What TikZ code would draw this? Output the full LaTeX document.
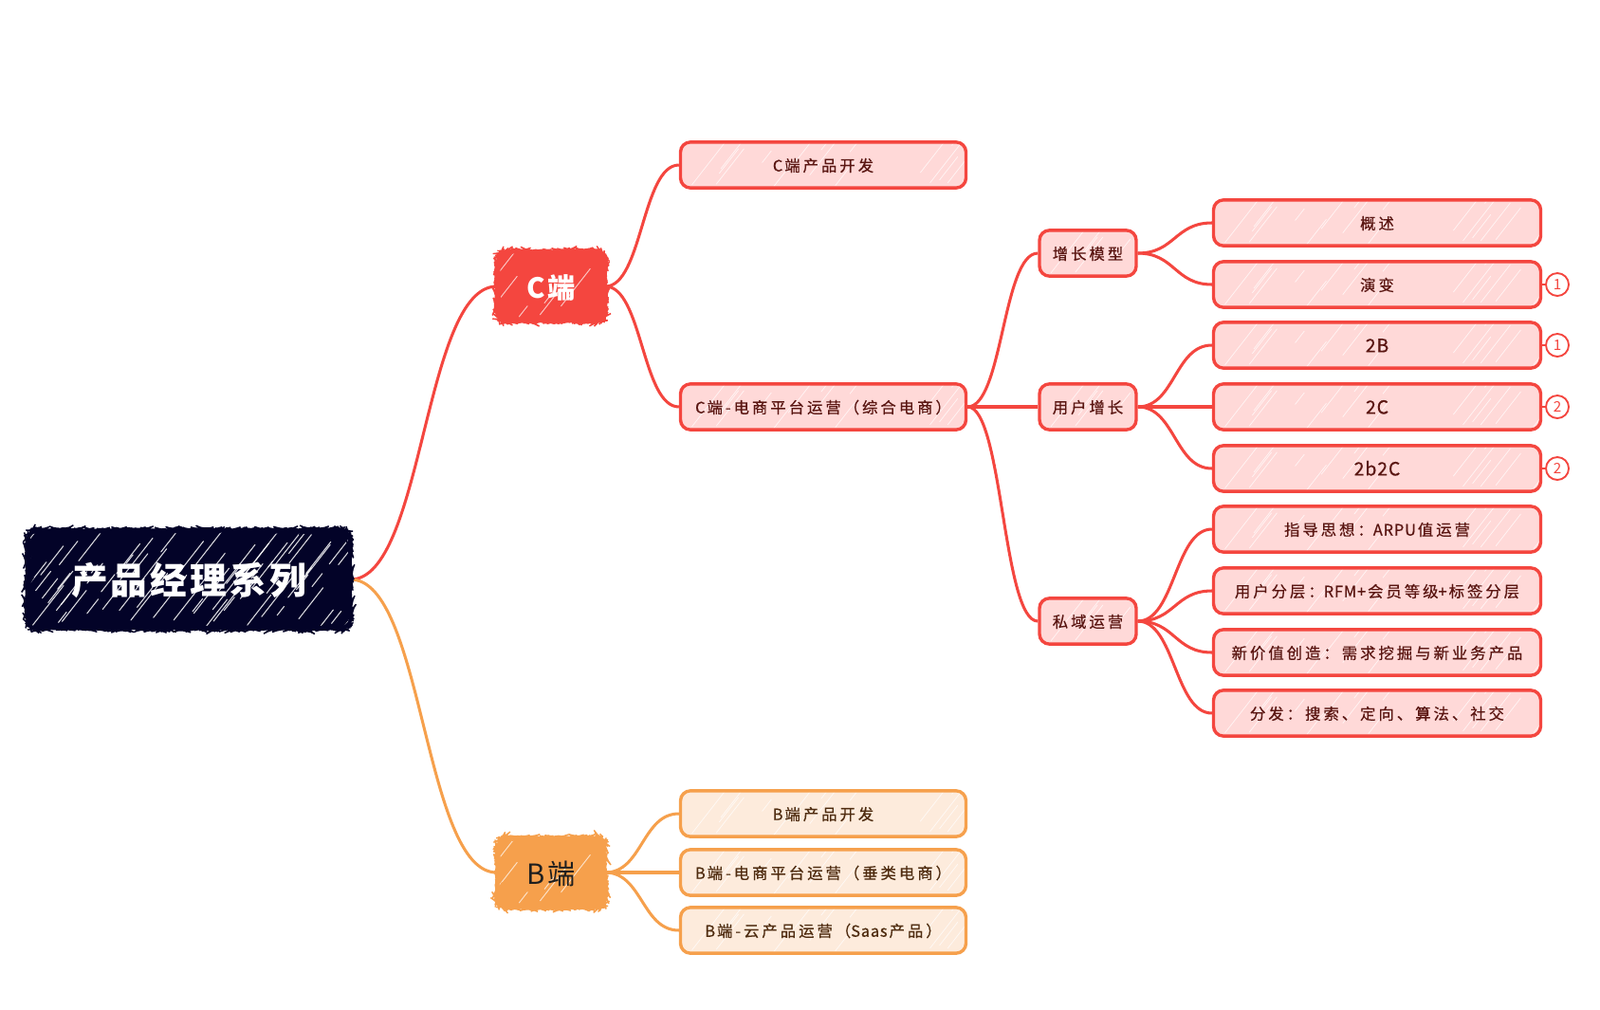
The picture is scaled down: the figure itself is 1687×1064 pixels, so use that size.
\documentclass[tikz,border=0pt]{standalone}
\usepackage{fontspec}
\usetikzlibrary{calc,backgrounds,decorations.pathmorphing}
\newfontfamily\cjk[LetterSpace=18,FakeBold=0.5]{Noto Sans CJK SC}
\newfontfamily\lat[LetterSpace=5,FakeBold=0.5]{Noto Sans CJK SC}
\newfontfamily\cjkt[LetterSpace=8]{Noto Sans CJK SC}
\newfontfamily\cjkn{Noto Sans CJK SC}
\definecolor{cred}{HTML}{F4463F}
\definecolor{cpink}{HTML}{FFD9D8}
\definecolor{ctext}{HTML}{5A1612}
\definecolor{bor}{HTML}{F6A04C}
\definecolor{bfill}{HTML}{FDEBDC}
\definecolor{btext}{HTML}{4F2C10}
\definecolor{navy}{HTML}{030328}
\newcommand\mmlink[3]{%
  \coordinate (lkm) at ($(#2.east)!0.5!(#3.west)$);
  \draw[#1] (#2.east) .. controls (lkm |- #2.east) and (lkm |- #3.west) .. (#3.west);}
\newcommand\la[1]{{\lat #1}\hspace{0.12em}}
\tikzset{
  hatch/.style n args={4}{path picture={%
    \pgfmathsetseed{#1}%
    \foreach \i in {0,...,#2}{%
      \pgfmathsetmacro\s{-2.8+14*rnd}%
      \pgfmathsetmacro\a{3.2*rnd}%
      \pgfmathsetmacro\l{0.3+1.6*rnd}%
      \draw[white,line width=#3,opacity=#4,line cap=round]
        ([xshift=\s cm]path picture bounding box.south west) ++(52:\a cm) -- ++(52:\l cm);
    }}},
  base/.style={rounded corners=9pt, inner sep=0pt, align=center},
  rough/.style={decorate, decoration={random steps,segment length=1.4pt,amplitude=0.4pt}},
  root/.style={base, rough, draw=navy, line width=1.2pt, fill=navy, text=white,
    minimum width=10.2cm, minimum height=3.1cm, text height=30.4pt, text depth=3.3pt,
    font={\cjkt\fontsize{33}{36}\selectfont\bfseries}, hatch={11}{90}{0.9pt}{0.85}},
  cmain/.style={base, rough, draw=cred, line width=1.2pt, fill=cred, text=white,
    minimum width=3.4cm, minimum height=2.2cm, text height=23pt, text depth=2.5pt,
    font={\cjkt\fontsize{25}{28}\selectfont\bfseries}, hatch={5}{30}{0.8pt}{0.7}},
  bmain/.style={base, rough, draw=bor, line width=1.2pt, fill=bor, text=black!88,
    minimum width=3.4cm, minimum height=2.2cm, text height=23pt, text depth=2.5pt,
    font={\cjkt\fontsize{25}{28}\selectfont}, hatch={5}{30}{0.8pt}{0.7}},
  cbox/.style={base, draw=cred, line width=2.9pt, fill=cpink, text=ctext,
    text height=12.9pt, text depth=1.4pt,
    font={\cjk\fontsize{14}{16}\selectfont}, hatch={3}{45}{0.6pt}{0.75}},
  bbox/.style={base, draw=bor, line width=2.9pt, fill=bfill, text=btext,
    text height=12.9pt, text depth=1.4pt,
    font={\cjk\fontsize{14}{16}\selectfont}, hatch={3}{45}{0.6pt}{0.75}},
  big/.style={font={\lat\fontsize{16.5}{18}\selectfont}, text height=12.6pt, text depth=0pt},
  ltwo/.style={minimum width=9.03cm, minimum height=1.45cm},
  lthree/.style={minimum width=3.06cm, minimum height=1.45cm},
  lfour/.style={minimum width=10.35cm, minimum height=1.45cm},
  numc/.style={circle, draw=cred, fill=white, line width=1.6pt, minimum size=0.72cm,
    inner sep=0pt, text=cred, font={\cjkn\fontsize{13}{13}\selectfont}},
  cline/.style={draw=cred, line width=2.6pt},
  bline/.style={draw=bor, line width=2.6pt},
  nline/.style={draw=cred, line width=1.7pt},
}
\begin{document}
\begin{tikzpicture}[x=0.03cm,y=-0.03cm]
\useasboundingbox (0,0) rectangle (1687,1064);
% nodes
\node[root] (root) at (199,611) {产品经理系列};
\node[cmain] (c) at (581,302) {C端};
\node[bmain] (b) at (581,920) {B端};
\node[cbox,ltwo] (c1) at (868,174) {\la{C}端产品开发};
\node[cbox,ltwo] (c2) at (868,429) {\la{C}端-电商平台运营（综合电商）};
\node[bbox,ltwo] (b1) at (868,858) {\la{B}端产品开发};
\node[bbox,ltwo] (b2) at (868,920) {\la{B}端-电商平台运营（垂类电商）};
\node[bbox,ltwo] (b3) at (868,981) {\la{B}端-云产品运营（\la{Saas}产品）};
\node[cbox,lthree] (g1) at (1147,267) {增长模型};
\node[cbox,lthree] (g2) at (1147,429) {用户增长};
\node[cbox,lthree] (g3) at (1147,655) {私域运营};
\node[cbox,lfour] (d1) at (1452,235) {概述};
\node[cbox,lfour] (d2) at (1452,300) {演变};
\node[cbox,lfour,big] (d3) at (1452,364) {2B};
\node[cbox,lfour,big] (d4) at (1452,429) {2C};
\node[cbox,lfour,big] (d5) at (1452,494) {2b2C};
\node[cbox,lfour] (d6) at (1452,558) {指导思想：\la{ARPU}值运营};
\node[cbox,lfour] (d7) at (1452,623) {用户分层：\la{RFM+}会员等级\la{+}标签分层};
\node[cbox,lfour] (d8) at (1452,688) {新价值创造：需求挖掘与新业务产品};
\node[cbox,lfour] (d9) at (1452,752) {分发：搜索、定向、算法、社交};
\node[numc] (n2) at (1642,300) {1};
\node[numc] (n3) at (1642,364) {1};
\node[numc] (n4) at (1642,429) {2};
\node[numc] (n5) at (1642,494) {2};
% connectors
\begin{scope}[on background layer]
\fill[white] (0,0) rectangle (1687,1064);
\mmlink{cline}{root}{c}
\mmlink{bline}{root}{b}
\mmlink{cline}{c}{c1}
\mmlink{cline}{c}{c2}
\mmlink{bline}{b}{b1}
\mmlink{bline}{b}{b2}
\mmlink{bline}{b}{b3}
\mmlink{cline}{c2}{g1}
\mmlink{cline}{c2}{g2}
\mmlink{cline}{c2}{g3}
\mmlink{cline}{g1}{d1}
\mmlink{cline}{g1}{d2}
\mmlink{cline}{g2}{d3}
\mmlink{cline}{g2}{d4}
\mmlink{cline}{g2}{d5}
\mmlink{cline}{g3}{d6}
\mmlink{cline}{g3}{d7}
\mmlink{cline}{g3}{d8}
\mmlink{cline}{g3}{d9}
\draw[nline] (d2.east) -- (n2.west);
\draw[nline] (d3.east) -- (n3.west);
\draw[nline] (d4.east) -- (n4.west);
\draw[nline] (d5.east) -- (n5.west);
\end{scope}
\end{tikzpicture}
\end{document}
